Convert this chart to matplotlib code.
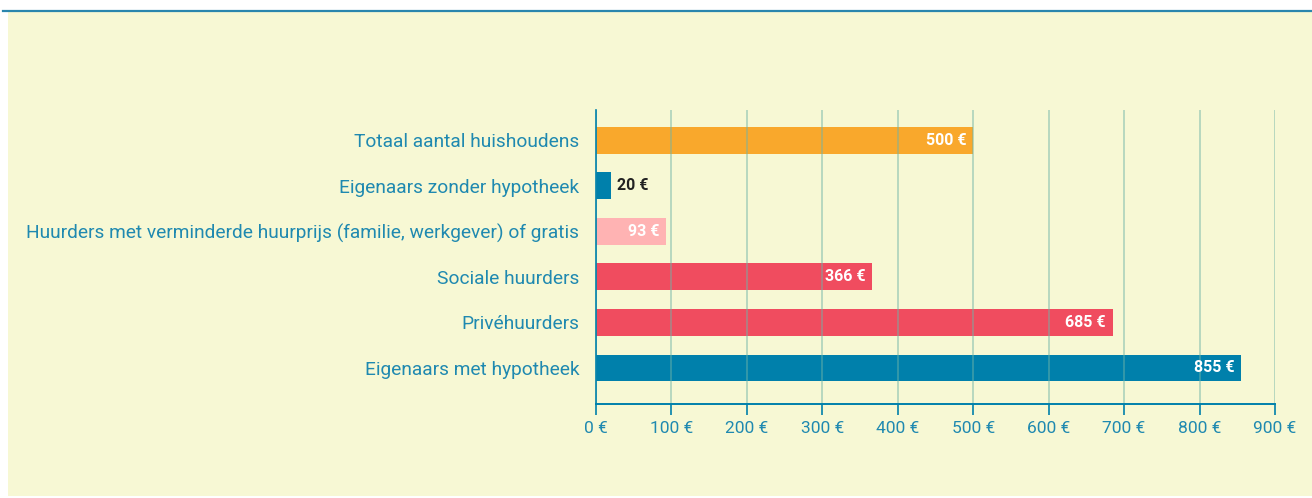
import matplotlib.pyplot as plt
from matplotlib.patches import Rectangle
from matplotlib.lines import Line2D

plt.rcParams['font.family'] = ['Roboto', 'DejaVu Sans']

categories = ['Totaal aantal huishoudens',
              'Eigenaars zonder hypotheek',
              'Huurders met verminderde huurprijs (familie, werkgever) of gratis',
              'Sociale huurders',
              'Privéhuurders',
              'Eigenaars met hypotheek']
values = [500, 20, 93, 366, 685, 855]
bar_colors = ['#f9a82c', '#0080ab', '#ffb3b3', '#f04c5f', '#f04c5f', '#0080ab']
ticks = [0, 100, 200, 300, 400, 500, 600, 700, 800, 900]

bg = '#f7f8d4'
blue = '#0080ab'
txt = '#1f89b0'

fig = plt.figure(figsize=(13.12, 4.98), dpi=100)
fig.patch.set_facecolor('white')
fig.add_artist(Rectangle((8/1312, 0.004), 1, 1 - 12/498 - 0.004, transform=fig.transFigure,
                         facecolor=bg, edgecolor='none', zorder=-10))
fig.add_artist(Line2D([3/1312, 1], [1 - 11/498, 1 - 11/498], transform=fig.transFigure,
                      color='#2a86ad', lw=1.6))

ax = fig.add_axes([596/1312, 1 - 404/498, 679/1312, 294/498])
ax.set_facecolor('none')

y = list(range(len(categories)))
ax.barh(y, values, height=0.59, color=bar_colors, zorder=1)

for i, v in enumerate(values):
    if v < 50:
        ax.text(v + 8, i, f'{v} €', va='center', ha='left', color='#222222',
                fontsize=11.5, fontweight='bold', zorder=3)
    else:
        ax.text(v - 9, i, f'{v} €', va='center', ha='right', color='white',
                fontsize=11.5, fontweight='bold', zorder=3)

ax.set_xlim(0, 900)
ax.set_ylim(5.79, -0.66)
ax.set_yticks(y)
ax.set_yticklabels(categories, fontsize=13.8, color=txt)
ax.set_xticks(ticks)
ax.set_xticklabels([f'{t} €' for t in ticks], fontsize=12.5, color=txt)

for t in ticks:
    ax.axvline(t, color='#6fb3a8', alpha=0.55, lw=1.2, zorder=2)

for s in ['top', 'right']:
    ax.spines[s].set_visible(False)
ax.spines['left'].set_color(blue)
ax.spines['bottom'].set_color(blue)
ax.spines['left'].set_linewidth(1.2)
ax.spines['bottom'].set_linewidth(1.4)
ax.tick_params(axis='y', length=0, pad=12)
ax.tick_params(axis='x', length=8, width=1.2, color=blue, pad=4)

fig.savefig('out.png', dpi=100, facecolor=fig.get_facecolor())
